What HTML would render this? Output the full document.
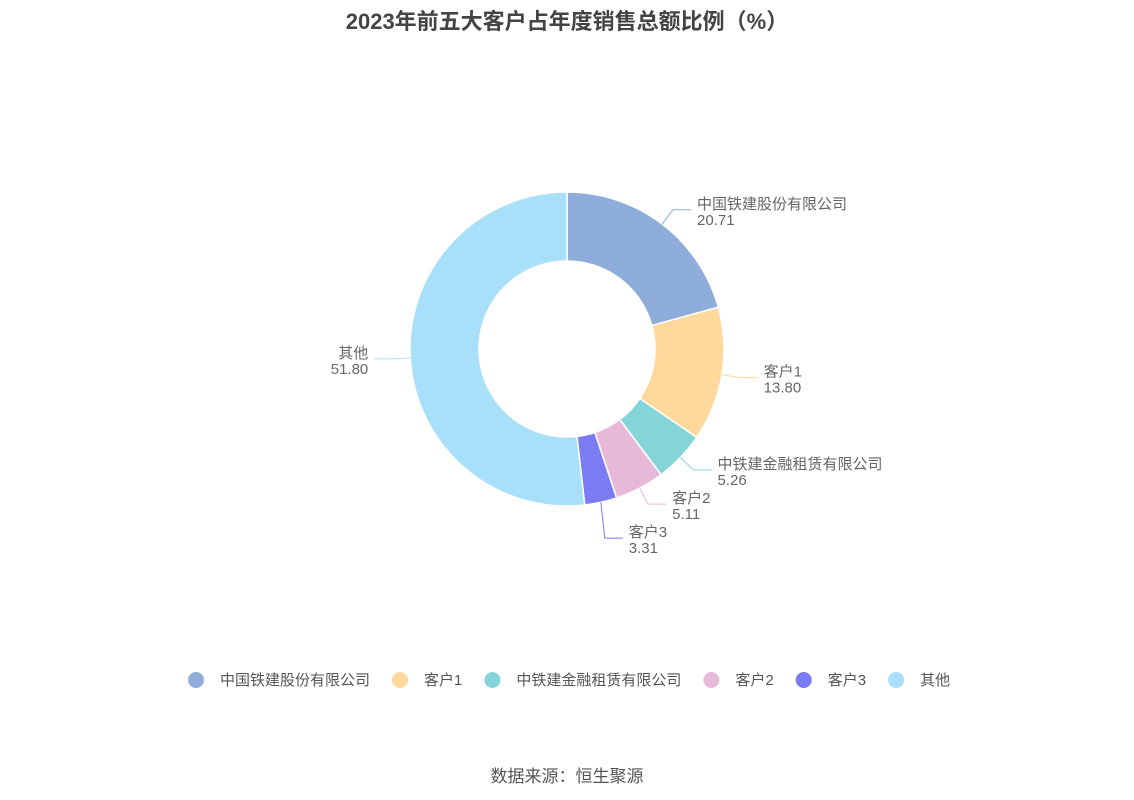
<!DOCTYPE html>
<html><head><meta charset="utf-8"><style>
body{margin:0;background:#fff;width:1134px;height:800px;overflow:hidden;font-family:"Liberation Sans","Noto Sans CJK SC",sans-serif}
#t{position:absolute;top:4px;left:0;width:1134px;text-align:center;font-size:22px;font-weight:bold;color:#444}
#src{position:absolute;top:762px;left:0;width:1134px;text-align:center;font-size:17px;color:#555}
</style></head><body>
<div id="t">2023年前五大客户占年度销售总额比例（%）</div>
<svg id="c" width="1134" height="800" style="position:absolute;left:0;top:0"></svg>
<div id="src">数据来源：恒生聚源</div>
<script>
const categories=["中国铁建股份有限公司","客户1","中铁建金融租赁有限公司","客户2","客户3","其他"];
const values=[20.71,13.80,5.26,5.11,3.31,51.80];
const colors=["#8eaddb","#fed99b","#85d5d8","#e7b9d9","#7b7bf3","#a8dff9"];
const NS="http://www.w3.org/2000/svg";
const svg=document.getElementById('c');
const cx=567,cy=349,R=157,r=88;
const total=values.reduce((a,b)=>a+b,0);
function pt(a,rad){return [cx+rad*Math.sin(a),cy-rad*Math.cos(a)];}
function mk(tag,attrs){const e=document.createElementNS(NS,tag);for(const k in attrs)e.setAttribute(k,attrs[k]);svg.appendChild(e);return e;}
let acc=0;const labels=[];
values.forEach((v,i)=>{
 const a0=acc/total*2*Math.PI;acc+=v;const a1=acc/total*2*Math.PI;
 const lg=(a1-a0)>Math.PI?1:0;
 const [x0,y0]=pt(a0,R),[x1,y1]=pt(a1,R),[x2,y2]=pt(a1,r),[x3,y3]=pt(a0,r);
 const p=mk('path',{d:`M${x0},${y0}A${R},${R} 0 ${lg} 1 ${x1},${y1}L${x2},${y2}A${r},${r} 0 ${lg} 0 ${x3},${y3}Z`,fill:colors[i],stroke:'#fff','stroke-width':1.5});
 
 
 const am=(a0+a1)/2;const [sx,sy]=pt(am,R);const [ex,ey]=pt(am,R+18);
 labels.push({i,am,sx,sy,ex,ey,right:Math.sin(am)>=0});
});
// simple collision avoidance per side
[true,false].forEach(side=>{
 const L=labels.filter(l=>l.right===side).sort((a,b)=>a.ey-b.ey);
 for(let k=1;k<L.length;k++){if(L[k].ey-L[k-1].ey<34)L[k].ey=L[k-1].ey+34;}
});
labels.forEach(l=>{
 const dir=l.right?1:-1;
 const hx=l.ex+dir*18;
 const pl=mk('polyline',{points:`${l.sx},${l.sy} ${l.ex},${l.ey} ${hx},${l.ey}`,fill:'none',stroke:colors[l.i],'stroke-width':1});
 
 
 const tx=hx+dir*6;
 const t=mk('text',{x:tx,y:l.ey-1,'font-size':15,fill:'#666','text-anchor':l.right?'start':'end'});
 t.textContent=categories[l.i];
 
 
 const t2=mk('text',{x:tx,y:l.ey+15,'font-size':15,fill:'#666','text-anchor':l.right?'start':'end'});
 t2.textContent=values[l.i].toFixed(2);
 
 
});
// legend
const lw=[];let x=188;
categories.forEach((c,i)=>{
 const cc=mk('circle',{cx:x+8,cy:680,r:8,fill:colors[i]});
 
 
 const t=mk('text',{x:x+32,y:685,'font-size':15,fill:'#555'});
 t.textContent=c;
 
 
 x+=32+t.getComputedTextLength()+22;
});
</script>
</body></html>
